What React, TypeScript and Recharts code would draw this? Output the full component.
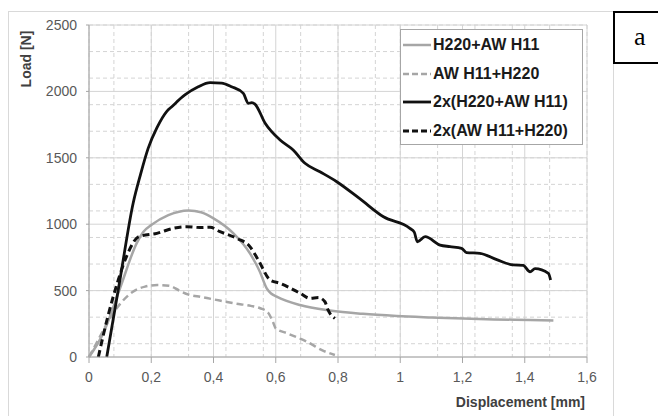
import { CartesianGrid, Legend, Line, LineChart, XAxis, YAxis } from "recharts";

// displacement [mm] / load [N] pairs
const h220AwH11 = [
  [0, 0], [0.046, 180], [0.1, 520], [0.153, 856], [0.175, 944], [0.2, 994], [0.255, 1069],
  [0.32, 1104], [0.36, 1090], [0.4, 1044], [0.464, 931], [0.517, 781], [0.549, 642],
  [0.571, 517], [0.585, 478], [0.603, 454], [0.678, 391], [0.774, 350], [0.88, 325],
  [0.989, 309], [1.1, 298], [1.203, 289], [1.3, 283], [1.417, 279], [1.492, 274],
];
const awH11H220 = [
  [0, 0], [0.03, 130], [0.067, 290], [0.1, 400], [0.14, 490], [0.18, 530], [0.22, 542],
  [0.26, 535], [0.29, 500], [0.32, 470], [0.36, 452], [0.42, 425], [0.47, 403], [0.52, 385],
  [0.55, 367], [0.575, 335], [0.59, 270], [0.6, 215], [0.635, 180], [0.7, 115], [0.75, 50],
  [0.79, 15],
];
const dblH220AwH11 = [
  [0.057, 0], [0.1, 590], [0.142, 1160], [0.165, 1370], [0.19, 1571],
  [0.218, 1725], [0.25, 1850], [0.266, 1885], [0.308, 1973], [0.351, 2035], [0.389, 2066],
  [0.426, 2062], [0.458, 2035], [0.496, 1985], [0.512, 1910], [0.523, 1915], [0.533, 1905],
  [0.566, 1760], [0.614, 1634], [0.656, 1559], [0.694, 1459], [0.742, 1395], [0.796, 1320],
  [0.871, 1190], [0.946, 1056], [1.031, 969], [1.045, 940], [1.055, 868], [1.08, 906],
  [1.128, 843], [1.16, 831], [1.197, 818], [1.213, 786], [1.256, 781], [1.31, 733],
  [1.363, 693], [1.395, 690], [1.417, 642], [1.433, 666], [1.476, 630], [1.483, 580],
];
const dblAwH11H220 = [
  [0.03, 0], [0.06, 300], [0.094, 580], [0.121, 760], [0.16, 906], [0.218, 931],
  [0.271, 969], [0.314, 981], [0.357, 975], [0.389, 977], [0.421, 944], [0.474, 894],
  [0.517, 831], [0.544, 730], [0.582, 580], [0.614, 555], [0.678, 480], [0.71, 442],
  [0.737, 448], [0.758, 416], [0.768, 354], [0.79, 291],
];

const xTicks = [0, 0.2, 0.4, 0.6, 0.8, 1, 1.2, 1.4, 1.6];
const yTicks = [0, 500, 1000, 1500, 2000, 2500];
const minorXTicks = Array.from({ length: 41 }, (_, i) => +(i * 0.04).toFixed(2));
const minorYTicks = Array.from({ length: 26 }, (_, i) => i * 100);

const series = [
  { name: "H220+AW H11", points: h220AwH11, color: "#a6a6a6", dash: undefined, width: 2.5 },
  { name: "AW H11+H220", points: awH11H220, color: "#a6a6a6", dash: "7 4", width: 2.5 },
  { name: "2x(H220+AW H11)", points: dblH220AwH11, color: "#111111", dash: undefined, width: 2.8 },
  { name: "2x(AW H11+H220)", points: dblAwH11H220, color: "#111111", dash: "7 4", width: 3 },
];

const toRows = (pts: number[][]) => pts.map(([x, y]) => ({ x, y }));

const fmtX = (v: number) => String(v).replace(".", ",");

function LegendBox() {
  return (
    <div
      style={{
        border: "1px solid #a6a6a6",
        background: "#fff",
        padding: "1px 0 0 2px",
        boxSizing: "border-box",
        width: 183,
        height: 116,
      }}
    >
      {series.map((s) => (
        <div key={s.name} style={{ display: "flex", alignItems: "center", height: 28.5 }}>
          <svg width={28} height={6} style={{ marginRight: 2 }}>
            <line x1={0} y1={3} x2={28} y2={3} stroke={s.color} strokeWidth={s.width} strokeDasharray={s.dash ? "6 3" : undefined} />
          </svg>
          <span style={{ fontSize: 16, fontWeight: "bold", color: "#1a1a1a", whiteSpace: "nowrap" }}>{s.name}</span>
        </div>
      ))}
    </div>
  );
}

function LoadLabel(props: any) {
  const vb = props.viewBox || { x: 29, y: 25 };
  const cx = vb.x - 3;
  const cy = vb.y + 34;
  return (
    <text
      x={cx}
      y={cy}
      transform={`rotate(-90, ${cx}, ${cy})`}
      textAnchor="middle"
      dominantBaseline="central"
      fontSize={14}
      fontWeight="bold"
      fill="#404040"
    >
      Load [N]
    </text>
  );
}

export default function App() {
  return (
    <div style={{ position: "absolute", left: 0, top: 0, width: 658, height: 416, overflow: "hidden", background: "#fff", fontFamily: "'Liberation Sans', Arial, sans-serif" }}>
      <div style={{ position: "absolute", left: 8, top: 11, width: 604, height: 420, border: "1px solid #d9d9d9" }} />
      <div style={{ position: "absolute", left: 0, top: 0 }}>
        <LineChart width={658} height={416} margin={{ top: 25, right: 71, left: 29, bottom: 7 }}>
          <CartesianGrid
            stroke="#d4d4d4"
            strokeDasharray="4 3"
            verticalValues={minorXTicks}
            horizontalValues={minorYTicks}
          />
          <CartesianGrid stroke="#d4d4d4" verticalValues={xTicks} horizontalValues={yTicks} />
          <XAxis
            type="number"
            dataKey="x"
            domain={[0, 1.6]}
            ticks={xTicks}
            tickFormatter={fmtX}
            height={52}
            tickSize={6}
            tickMargin={9}
            stroke="#a6a6a6"
            tick={{ fill: "#595959", fontSize: 14 }}
            label={{ value: "Displacement [mm]", position: "insideBottomRight", offset: 2, fill: "#404040", fontSize: 14, fontWeight: "bold" }}
          />
          <YAxis
            type="number"
            domain={[0, 2500]}
            ticks={yTicks}
            width={60}
            tickSize={3}
            tickMargin={9}
            stroke="#a6a6a6"
            tick={{ fill: "#595959", fontSize: 14 }}
            label={(p: any) => <LoadLabel {...p} />}
          />
          {series.map((s) => (
            <Line
              key={s.name}
              data={toRows(s.points)}
              dataKey="y"
              name={s.name}
              type="monotone"
              stroke={s.color}
              strokeWidth={s.width}
              strokeDasharray={s.dash}
              dot={false}
              activeDot={false}
              isAnimationActive={false}
            />
          ))}
          <Legend
            layout="vertical"
            verticalAlign="middle"
            align="center"
            content={() => <LegendBox />}
            wrapperStyle={{ left: 400, top: 29, width: 183, height: 116 }}
          />
        </LineChart>
      </div>
      <div style={{ position: "absolute", left: 613, top: 11, width: 60, height: 49, border: "2px solid #000", background: "#fff" }}>
        <span style={{ position: "absolute", left: 19, top: 11, fontFamily: "'Liberation Serif', 'DejaVu Serif', serif", fontSize: 26, lineHeight: "26px", color: "#000" }}>a</span>
      </div>
    </div>
  );
}
